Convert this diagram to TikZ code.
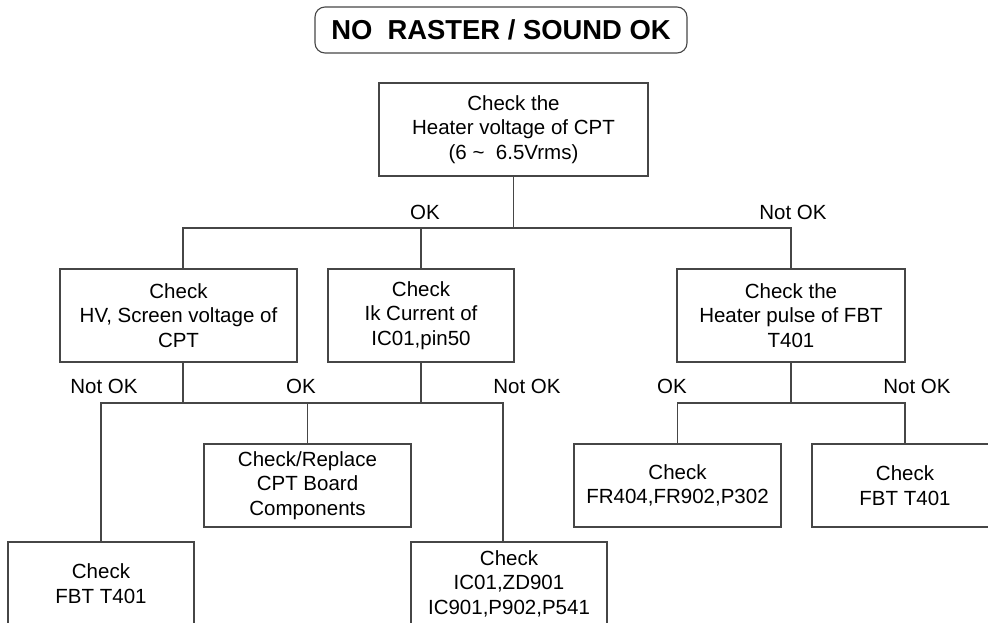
\documentclass[tikz,border=0pt]{standalone}
\usepackage{fontspec}
\setmainfont{Liberation Sans}
\usetikzlibrary{positioning, calc}
\definecolor{wiregrey}{RGB}{70, 70, 70}

\begin{document}
\begin{tikzpicture}[
    x=1pt, y=-1pt,
    checkbox/.style={rectangle, draw=wiregrey, line width=1.1pt, inner sep=0pt, align=center, font=\fontsize{20.5}{24.5}\selectfont},
    titlebox/.style={rectangle, rounded corners=10pt, draw=wiregrey, line width=1.1pt, minimum width=372pt, minimum height=46pt, font=\fontsize{27.4}{30}\selectfont\bfseries},
    branch/.style={font=\fontsize{20.5}{24.5}\selectfont},
    wire/.style={draw=wiregrey, line width=1.1pt}
]
\useasboundingbox (0,0) rectangle (988,622);
\clip (0,0) rectangle (988,622);

\node[titlebox] (title) at (501,30) {NO\ \ RASTER / SOUND OK};

\node[checkbox, minimum width=269pt, minimum height=93pt] (heatv) at (513.5,129.5) {Check the\\Heater voltage of CPT\\(6 \textasciitilde\ \ 6.5Vrms)};

\node[checkbox, minimum width=237pt, minimum height=93pt] (hv) at (178.5,315.5) {Check\\HV, Screen voltage of\\CPT};
\node[checkbox, minimum width=186pt, minimum height=93pt] (ik) at (421,315.5) {Check\\Ik Current of\\IC01,pin50};
\node[checkbox, minimum width=228pt, minimum height=93pt] (heatp) at (791,315.5) {Check the\\Heater pulse of FBT\\T401};

\node[checkbox, minimum width=207pt, minimum height=83pt] (cptboard) at (307.5,485.5) {Check/Replace\\CPT Board\\Components};
\node[checkbox, minimum width=207pt, minimum height=83pt] (fr404) at (677.5,485.5) {Check\\FR404,FR902,P302};
\node[checkbox, minimum width=186pt, minimum height=83pt] (fbtR) at (905,485.5) {Check\\FBT T401};

\node[checkbox, minimum width=186pt, minimum height=83pt] (fbtL) at (101,583.5) {Check\\FBT T401};
\node[checkbox, minimum width=196pt, minimum height=83pt] (icparts) at (509,583.5) {Check\\IC01,ZD901\\IC901,P902,P541};

\node[branch] (ok1) at (425,212) {OK};
\node[branch] (nok1) at (793,212) {Not OK};
\node[branch] (nok2) at (104,386) {Not OK};
\node[branch] (ok2) at (301,386) {OK};
\node[branch] (nok3) at (527,386) {Not OK};
\node[branch] (ok3) at (672,386) {OK};
\node[branch] (nok4) at (917,386) {Not OK};

\coordinate (j1) at (513.5,228);
\coordinate (j2) at (183,403);
\coordinate (j3) at (421,403);
\coordinate (j4) at (791,403);

\draw[wire] (heatv.south) -- (j1);
\draw[wire] ([xshift=4.5pt]hv.north) |- (j1) -| (heatp.north);
\draw[wire] (ik.north) -- (ik.north |- j1);

\draw[wire] ([xshift=4.5pt]hv.south) -- (j2);
\draw[wire] (ik.south) -- (j3);
\draw[wire] (fbtL.north) |- (j2) -- (j3) -| ([xshift=-6pt]icparts.north);
\draw[wire] (cptboard.north) -- (cptboard.north |- j2);

\draw[wire] (heatp.south) -- (j4);
\draw[wire] (fr404.north) |- (j4) -| (fbtR.north);
\end{tikzpicture}
\end{document}
